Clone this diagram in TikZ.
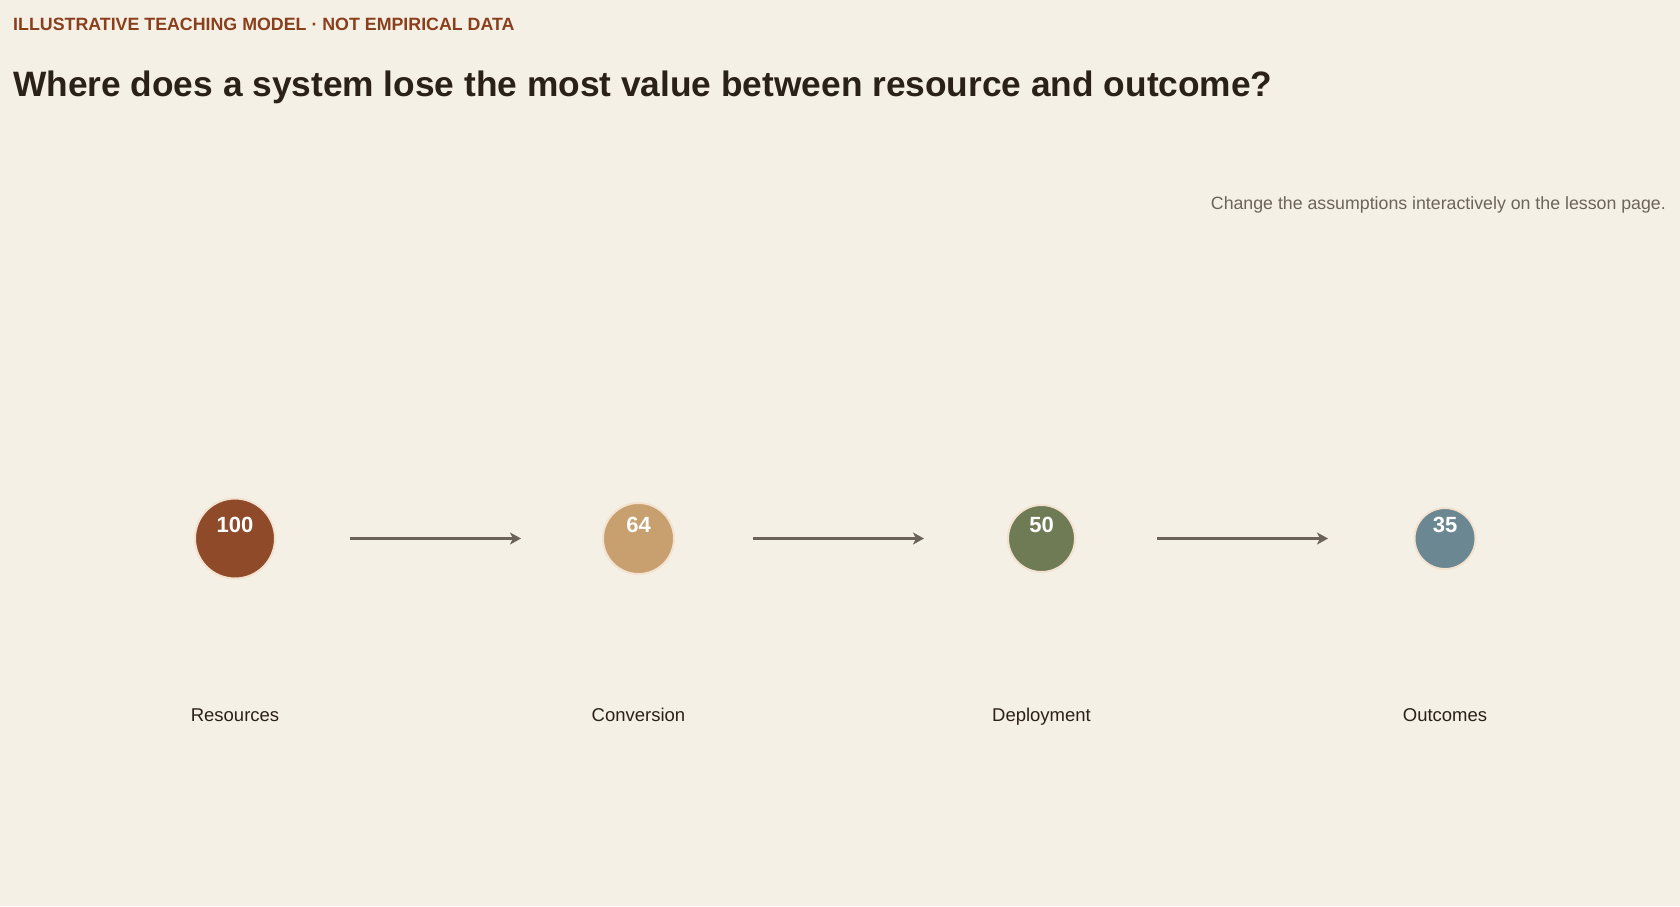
\documentclass[tikz,border=0pt]{standalone}
\usepackage{fontspec}
\setmainfont{Liberation Sans}
\usetikzlibrary{arrows.meta}
\definecolor{bg}{HTML}{F5F0E5}
\definecolor{kicker}{HTML}{8A3F1C}
\definecolor{titlec}{HTML}{2A2118}
\definecolor{subc}{HTML}{6B645C}
\definecolor{arrowc}{HTML}{6B625A}
\definecolor{cA}{HTML}{8F4A2A}
\definecolor{cB}{HTML}{C89F6E}
\definecolor{cC}{HTML}{6F7B55}
\definecolor{cD}{HTML}{6B8792}
\definecolor{ring}{HTML}{F2E2CF}
\tikzset{
  stage/.style={circle, draw=ring, line width=2pt, inner sep=0pt},
  num/.style={anchor=base, inner sep=0pt, text=white, font=\fontsize{22}{24}\selectfont\bfseries},
  lbl/.style={anchor=base, inner sep=0pt, text=titlec, font=\fontsize{18.5}{20}\selectfont},
  flow/.style={draw=arrowc, line width=2.6pt, -{Stealth[length=11pt,width=12pt,inset=3pt]}}
}
\begin{document}
\begin{tikzpicture}[x=1pt,y=-1pt]
\fill[bg] (0,0) rectangle (1680,906);
\useasboundingbox (0,0) rectangle (1680,906);
\node[anchor=base west, inner sep=0pt, text=kicker, font=\fontsize{17.8}{19}\selectfont\bfseries] (kick) at (13,30.5) {ILLUSTRATIVE TEACHING MODEL · NOT EMPIRICAL DATA};
\node[anchor=base west, inner sep=0pt, text=titlec, font=\fontsize{35.3}{38}\selectfont\bfseries] (title) at (13,96) {Where does a system lose the most value between resource and outcome?};
\node[anchor=base east, inner sep=0pt, text=subc, font=\fontsize{17.75}{19}\selectfont] (sub) at (1666,209.5) {Change the assumptions interactively on the lesson page.};

\node[stage, fill=cA, minimum size=80pt] (s1) at (235,538.5) {};
\node[stage, fill=cB, minimum size=71pt] (s2) at (638.5,538.5) {};
\node[stage, fill=cC, minimum size=67pt] (s3) at (1041.5,538.5) {};
\node[stage, fill=cD, minimum size=61pt] (s4) at (1445,538.5) {};

\node[num] (n1) at (235,532.7) {100};
\node[num] (n2) at (638.5,532.7) {64};
\node[num] (n3) at (1041.5,532.7) {50};
\node[num] (n4) at (1445,532.7) {35};

\node[lbl] (l1) at (235,721) {Resources};
\node[lbl] (l2) at (638.5,721) {Conversion};
\node[lbl] (l3) at (1041.5,721) {Deployment};
\node[lbl] (l4) at (1445,721) {Outcomes};

\coordinate (a1s) at (350,538.5); \coordinate (a1e) at (521,538.5);
\coordinate (a2s) at (753,538.5); \coordinate (a2e) at (924,538.5);
\coordinate (a3s) at (1157,538.5); \coordinate (a3e) at (1328,538.5);
\draw[flow] (a1s) -- (a1e);
\draw[flow] (a2s) -- (a2e);
\draw[flow] (a3s) -- (a3e);
\end{tikzpicture}
\end{document}
